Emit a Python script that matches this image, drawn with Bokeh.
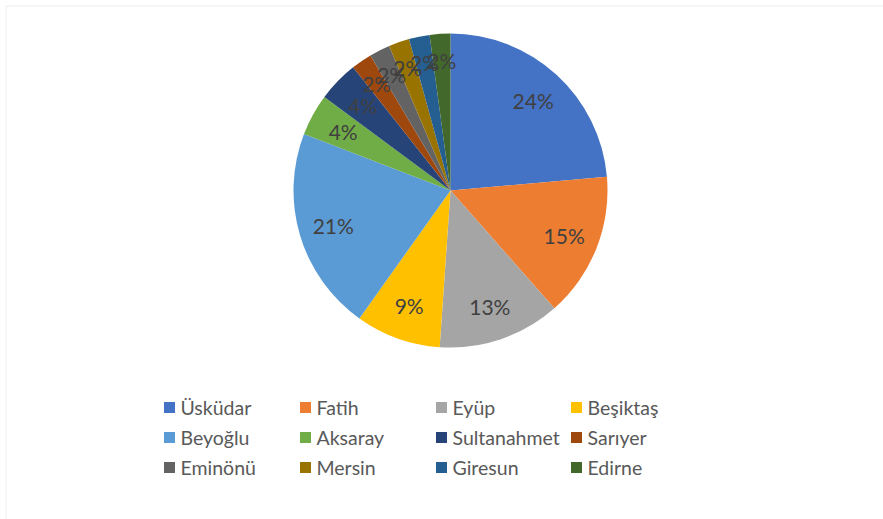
import math
from bokeh.plotting import figure
from bokeh.models import ColumnDataSource, Range1d, BoxAnnotation
from bokeh.core.properties import value
from bokeh.embed import file_html
from bokeh.resources import INLINE

# ---- data ----
categories = ["Üsküdar", "Fatih", "Eyüp", "Beşiktaş", "Beyoğlu", "Aksaray",
              "Sultanahmet", "Sarıyer", "Eminönü", "Mersin", "Giresun", "Edirne"]
shares = [23.6, 14.9, 12.6, 8.75, 21.0, 4.3, 4.2, 2.13, 2.13, 2.13, 2.13, 2.13]
colors = ["#4472C4", "#ED7D31", "#A5A5A5", "#FFC000", "#5B9BD5", "#70AD47",
          "#264478", "#9E480E", "#636363", "#997300", "#255E91", "#43682B"]

W, H = 883, 519
CX, CY, R = 450, H - 190, 157
FONT = "Lato"

total = sum(shares)
starts, ends, lx, ly, labels = [], [], [], [], []
cum = 0.0
for v in shares:
    f0 = cum / total
    cum += v
    f1 = cum / total
    starts.append(math.pi / 2 - 2 * math.pi * f1)
    ends.append(math.pi / 2 - 2 * math.pi * f0)
    mid = math.pi / 2 - 2 * math.pi * (f0 + f1) / 2
    k = 0.83 if v / total < 0.03 else 0.78
    lx.append(CX + k * R * math.cos(mid))
    ly.append(CY + k * R * math.sin(mid))
    labels.append(f"{round(v / total * 100)}%")

src = ColumnDataSource(dict(cat=categories, start=starts, end=ends, color=colors,
                            lx=lx, ly=ly, label=labels))

p = figure(width=W, height=H, output_backend="svg", toolbar_location=None,
           x_range=Range1d(0, W), y_range=Range1d(0, H), min_border=0,
           background_fill_color="white", border_fill_color="white")
p.axis.visible = False
p.grid.visible = False
p.outline_line_color = None

p.add_layout(BoxAnnotation(left=5.5, right=W + 20, top=H - 5.5, bottom=-20,
                           fill_alpha=0, line_color="#d9d9d9", line_width=1.5))

p.wedge(x=CX, y=CY, radius=R, start_angle="start", end_angle="end",
        fill_color="color", line_color=None, source=src)

p.text(x="lx", y="ly", text="label", source=src, text_align="center",
       text_baseline="middle", text_color="#404040",
       text_font=value(FONT), text_font_size="21px")

# legend: 4 columns x 3 rows
col_sq = [169, 305, 441, 576]
row_y = [407, 437, 467]
sx, sy, tx = [], [], []
for i in range(len(categories)):
    c, r = i % 4, i // 4
    sx.append(col_sq[c])
    sy.append(H - row_y[r])
    tx.append(col_sq[c] + 11)
lsrc = ColumnDataSource(dict(sx=sx, sy=sy, tx=tx, cat=categories, color=colors))
p.rect(x="sx", y="sy", width=11, height=11, fill_color="color", line_color=None,
       source=lsrc)
p.text(x="tx", y="sy", text="cat", source=lsrc, text_align="left",
       text_baseline="middle", text_color="#595959",
       text_font=value(FONT), text_font_size="19.5px")

open("out.html", "w").write(file_html(p, INLINE))
